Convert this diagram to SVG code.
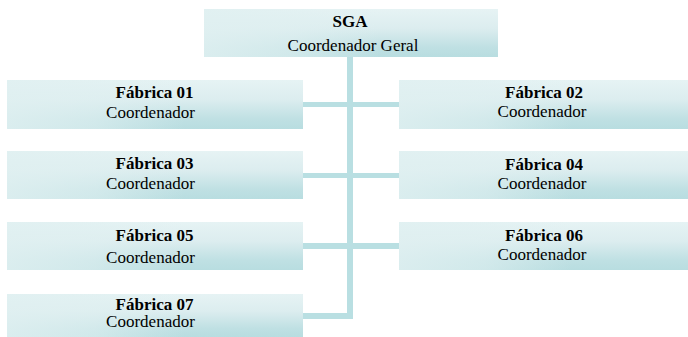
<svg xmlns="http://www.w3.org/2000/svg" width="688" height="337" viewBox="0 0 688 337">
<defs>
<linearGradient id="gv" x1="0" y1="0" x2="0" y2="1">
<stop offset="0" stop-color="#e6f3f4"/>
<stop offset="0.4" stop-color="#dcedef"/>
<stop offset="0.8" stop-color="#bfe0e3"/>
<stop offset="1" stop-color="#b8dde0"/>
</linearGradient>
<linearGradient id="gh" x1="0" y1="0" x2="1" y2="0">
<stop offset="0" stop-color="#e0f0f1" stop-opacity="0.85"/>
<stop offset="0.3" stop-color="#e0f0f1" stop-opacity="0.6"/>
<stop offset="0.6" stop-color="#e0f0f1" stop-opacity="0"/>
</linearGradient>
<style>
.b{fill:url(#gv)}
.h{fill:url(#gh)}
.t{font-family:"Liberation Serif","Times New Roman",serif;fill:#000;text-anchor:middle;font-size:17px}
.bold{font-weight:bold}
.c{fill:#b9dfe2}
</style>
</defs>
<rect width="688" height="337" fill="#ffffff"/>
<g id="connectors">
<rect class="c" x="347" y="56" width="6" height="263"/>
<rect class="c" x="303" y="102" width="96" height="5"/>
<rect class="c" x="303" y="173" width="96" height="5"/>
<rect class="c" x="303" y="243" width="96" height="6"/>
<rect class="c" x="303" y="313" width="50" height="6"/>
</g>
<g id="sga">
<rect class="b" x="204" y="9" width="294" height="48"/>
<rect class="h" x="204" y="9" width="294" height="48"/>
<text class="t bold" x="350" y="27">SGA</text>
<text class="t" x="353" y="51">Coordenador Geral</text>
</g>
<g id="f01">
<rect class="b" x="7" y="80" width="296" height="49"/>
<rect class="h" x="7" y="80" width="296" height="49"/>
<text class="t bold" x="154.5" y="98">Fábrica 01</text>
<text class="t" x="150.5" y="118">Coordenador</text>
</g>
<g id="f02">
<rect class="b" x="399" y="80" width="289" height="49"/>
<rect class="h" x="399" y="80" width="289" height="49"/>
<text class="t bold" x="544" y="98">Fábrica 02</text>
<text class="t" x="542" y="117">Coordenador</text>
</g>
<g id="f03">
<rect class="b" x="7" y="151" width="296" height="48"/>
<rect class="h" x="7" y="151" width="296" height="48"/>
<text class="t bold" x="154.5" y="169">Fábrica 03</text>
<text class="t" x="150.5" y="189">Coordenador</text>
</g>
<g id="f04">
<rect class="b" x="399" y="151" width="289" height="48"/>
<rect class="h" x="399" y="151" width="289" height="48"/>
<text class="t bold" x="544" y="170">Fábrica 04</text>
<text class="t" x="542" y="189">Coordenador</text>
</g>
<g id="f05">
<rect class="b" x="7" y="222" width="296" height="48"/>
<rect class="h" x="7" y="222" width="296" height="48"/>
<text class="t bold" x="154.5" y="241">Fábrica 05</text>
<text class="t" x="150.5" y="263">Coordenador</text>
</g>
<g id="f06">
<rect class="b" x="399" y="222" width="289" height="48"/>
<rect class="h" x="399" y="222" width="289" height="48"/>
<text class="t bold" x="544" y="241">Fábrica 06</text>
<text class="t" x="542" y="260">Coordenador</text>
</g>
<g id="f07">
<rect class="b" x="7" y="294" width="296" height="43"/>
<rect class="h" x="7" y="294" width="296" height="43"/>
<text class="t bold" x="154.5" y="310">Fábrica 07</text>
<text class="t" x="150.5" y="327">Coordenador</text>
</g>
</svg>
